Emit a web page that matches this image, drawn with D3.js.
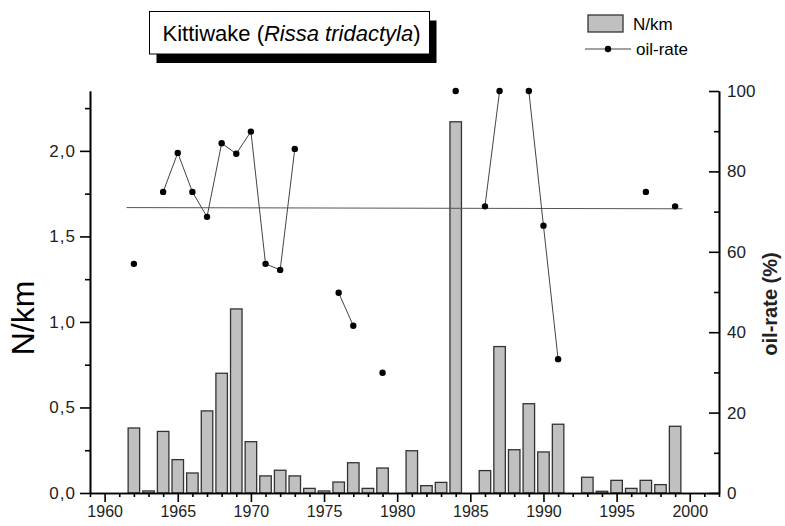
<!DOCTYPE html>
<html>
<head>
<meta charset="utf-8">
<script src="https://cdn.jsdelivr.net/npm/d3@7"></script>
<style>
  body { margin: 0; background: #fff; }
  svg { display: block; font-family: "Liberation Sans", Arial, sans-serif; }
</style>
</head>
<body>
<div id="chart"></div>
<script>
// N/km per year (bars)
const barYears = [1962,1963,1964,1965,1966,1967,1968,1969,1970,1971,1972,1973,1974,1975,1976,1977,1978,1979,
                  1981,1982,1983,1984,1986,1987,1988,1989,1990,1991,1993,1994,1995,1996,1997,1998,1999];
const nPerKm = [0.38,0.012,0.36,0.195,0.117,0.48,0.70,1.076,0.30,0.10,0.133,0.10,0.027,0.012,0.064,0.177,0.027,0.146,
                0.247,0.043,0.062,2.17,0.131,0.856,0.253,0.522,0.24,0.402,0.092,0.01,0.074,0.027,0.074,0.049,0.39];

// oil-rate (%) per year, null = no value (breaks the line)
const oilYears = [1962,1963,1964,1965,1966,1967,1968,1969,1970,1971,1972,1973,1974,1975,1976,1977,1978,1979,1980,
                  1981,1982,1983,1984,1985,1986,1987,1988,1989,1990,1991,1992,1993,1994,1995,1996,1997,1998,1999];
const oilRate = [57.0,null,74.9,84.6,74.9,68.7,87.0,84.4,89.9,57.0,55.5,85.6,null,null,49.8,41.6,null,29.9,null,
                 null,null,null,100,null,71.3,100,null,100,66.5,33.3,null,null,null,null,null,74.9,null,71.3];

// flat reference line across the oil-rate points
const refYears = [1961.5, 1999.5];
const refRate = [71.0, 70.7];

// axis ticks
const leftMajor = [0, 0.5, 1.0, 1.5, 2.0];
const leftMinor = [0.25, 0.75, 1.25, 1.75, 2.25];
const rightMajor = [0, 20, 40, 60, 80, 100];
const rightMinor = [10, 30, 50, 70, 90];
const xMajor = [1960, 1965, 1970, 1975, 1980, 1985, 1990, 1995, 2000];
const xMinor = [1959,1961,1962,1963,1964,1966,1967,1968,1969,1971,1972,1973,1974,1976,1977,1978,1979,
                1981,1982,1983,1984,1986,1987,1988,1989,1991,1992,1993,1994,1996,1997,1998,1999,2001,2002];

const W = 785, H = 526;
const plot = { left: 90, right: 719, top: 91, bottom: 493 };

const svg = d3.select("#chart").append("svg")
    .attr("width", W)
    .attr("height", H);

const x = d3.scaleLinear().domain([1959, 2002]).range([plot.left, plot.right]);
const yL = d3.scaleLinear().domain([0, 2.35]).range([plot.bottom, plot.top]);
const yR = d3.scaleLinear().domain([0, 100]).range([plot.bottom, plot.top]);

const barW = 11.5;

// bars
svg.append("g")
    .selectAll("rect")
    .data(barYears.map((yr, i) => ({ yr, v: nPerKm[i] })))
    .join("rect")
    .attr("x", d => x(d.yr) - barW / 2)
    .attr("y", d => yL(d.v))
    .attr("width", barW)
    .attr("height", d => yL(0) - yL(d.v))
    .attr("fill", "#c0c0c0")
    .attr("stroke", "#333")
    .attr("stroke-width", 1.3);

// reference line
const refLine = d3.line().x(d => x(d.yr)).y(d => yR(d.v));
svg.append("path")
    .attr("d", refLine(refYears.map((yr, i) => ({ yr, v: refRate[i] }))))
    .attr("fill", "none")
    .attr("stroke", "#555")
    .attr("stroke-width", 1);

// oil-rate line + points
const oilData = oilYears.map((yr, i) => ({ yr, v: oilRate[i] }));
const oilLine = d3.line()
    .defined(d => d.v != null)
    .x(d => x(d.yr))
    .y(d => yR(d.v));

svg.append("path")
    .attr("d", oilLine(oilData))
    .attr("fill", "none")
    .attr("stroke", "#444")
    .attr("stroke-width", 1);

svg.append("g")
    .selectAll("circle")
    .data(oilData.filter(d => d.v != null))
    .join("circle")
    .attr("cx", d => x(d.yr))
    .attr("cy", d => yR(d.v))
    .attr("r", 3.2)
    .attr("fill", "#000");

// axes
const comma = v => d3.format(".1f")(v).replace(".", ",");

function styleAxis(g, size) {
    g.select(".domain").attr("stroke", "#000").attr("stroke-width", 1.6);
    g.selectAll(".tick line").attr("stroke", "#000").attr("stroke-width", 1.6);
    g.selectAll(".tick text").attr("fill", "#222").style("font-size", (size || 16) + "px")
        .style("font-family", "'Liberation Sans', Arial, sans-serif");
}

// left
svg.append("g")
    .attr("transform", `translate(${plot.left},0)`)
    .call(d3.axisLeft(yL).tickValues(leftMinor).tickSize(5).tickFormat("").tickSizeOuter(0))
    .call(styleAxis);
svg.append("g")
    .attr("transform", `translate(${plot.left},0)`)
    .call(d3.axisLeft(yL).tickValues(leftMajor).tickSize(10).tickPadding(4).tickFormat(comma).tickSizeOuter(0))
    .call(g => styleAxis(g, 17))
    .call(g => g.selectAll(".tick text").style("letter-spacing", "1px"));

// right (ticks point inward)
svg.append("g")
    .attr("transform", `translate(${plot.right},0)`)
    .call(d3.axisRight(yR).tickValues(rightMinor).tickSizeInner(-5).tickSizeOuter(0).tickFormat(""))
    .call(styleAxis);
svg.append("g")
    .attr("transform", `translate(${plot.right},0)`)
    .call(d3.axisRight(yR).tickValues(rightMajor).tickSizeInner(-10).tickSizeOuter(0).tickPadding(8))
    .call(g => styleAxis(g, 17));

// bottom
svg.append("g")
    .attr("transform", `translate(0,${plot.bottom})`)
    .call(d3.axisBottom(x).tickValues(xMinor).tickSize(4).tickFormat("").tickSizeOuter(0))
    .call(styleAxis);
svg.append("g")
    .attr("transform", `translate(0,${plot.bottom})`)
    .call(d3.axisBottom(x).tickValues(xMajor).tickSize(9).tickPadding(4).tickFormat(d3.format("d")).tickSizeOuter(0))
    .call(g => styleAxis(g, 16));

// axis titles
svg.append("text")
    .attr("transform", `translate(34,318) rotate(-90)`)
    .attr("text-anchor", "middle")
    .style("font-size", "32px")
    .attr("fill", "#000")
    .text("N/km");

svg.append("text")
    .attr("transform", `translate(777,304) rotate(-90)`)
    .attr("text-anchor", "middle")
    .style("font-size", "20px")
    .style("font-weight", "bold")
    .attr("fill", "#222")
    .text("oil-rate (%)");

// title box with shadow
svg.append("rect")
    .attr("x", 156.5).attr("y", 20.5)
    .attr("width", 280).attr("height", 42.5)
    .attr("fill", "#000");
svg.append("rect")
    .attr("x", 149.5).attr("y", 11.5)
    .attr("width", 280).attr("height", 42.5)
    .attr("fill", "#fff")
    .attr("stroke", "#000")
    .attr("stroke-width", 1);

const title = svg.append("text")
    .attr("x", 162.5).attr("y", 41)
    .style("font-size", "22px")
    .attr("fill", "#000");
title.append("tspan").text("Kittiwake (");
title.append("tspan").style("font-style", "italic").text("Rissa tridactyla");
title.append("tspan").text(")");

// legend
const legend = svg.append("g");
legend.append("rect")
    .attr("x", 588).attr("y", 15)
    .attr("width", 35).attr("height", 17)
    .attr("fill", "#c0c0c0")
    .attr("stroke", "#333")
    .attr("stroke-width", 1.3);
legend.append("text")
    .attr("x", 633).attr("y", 30)
    .style("font-size", "17px")
    .text("N/km");
legend.append("line")
    .attr("x1", 585).attr("x2", 631)
    .attr("y1", 49).attr("y2", 49)
    .attr("stroke", "#444").attr("stroke-width", 1);
legend.append("circle")
    .attr("cx", 608).attr("cy", 49).attr("r", 3.2)
    .attr("fill", "#000");
legend.append("text")
    .attr("x", 636).attr("y", 55)
    .style("font-size", "17px")
    .text("oil-rate");
</script>
</body>
</html>
